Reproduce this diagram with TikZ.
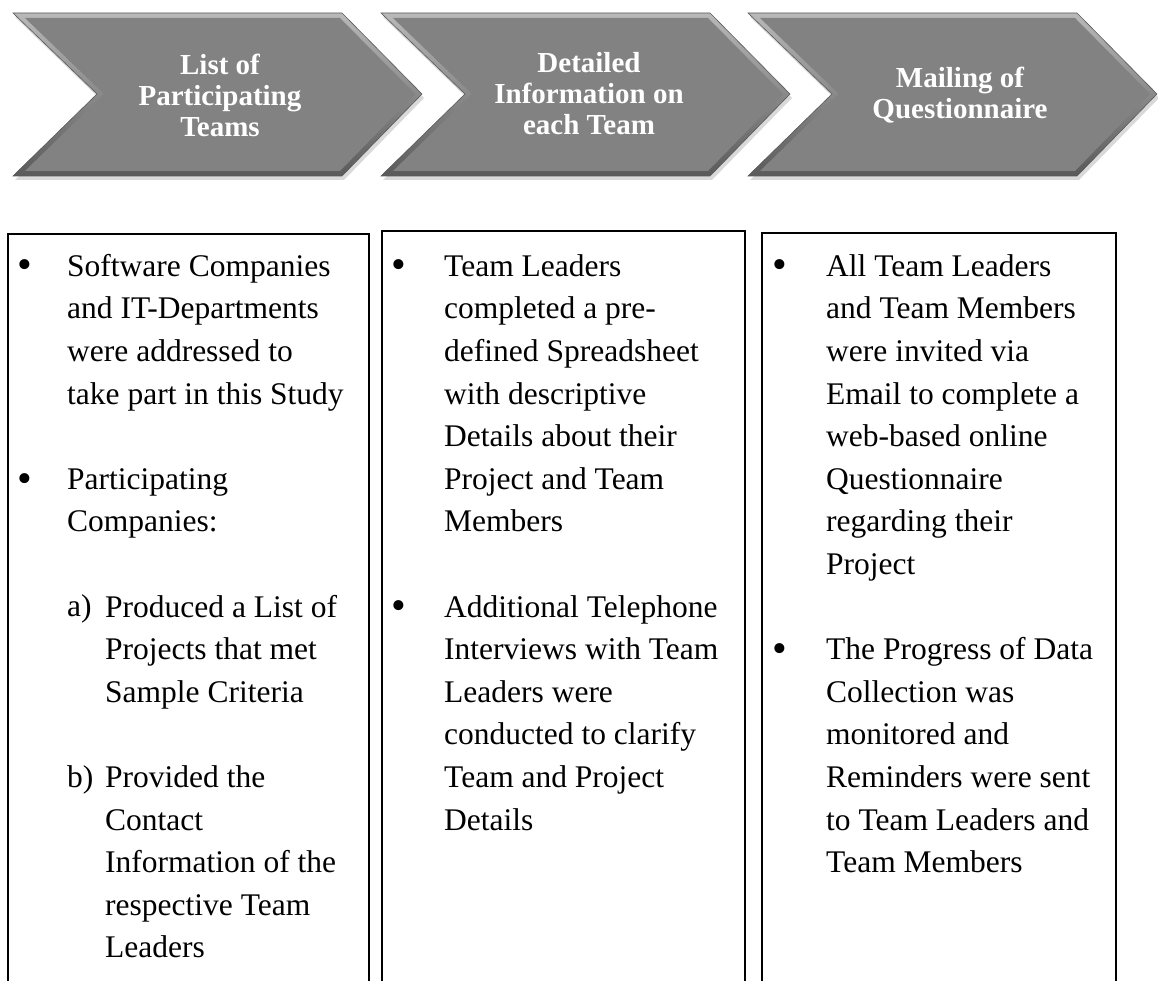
\documentclass[tikz,border=0pt]{standalone}
\usepackage{fontspec}
\setmainfont{Liberation Serif}
\definecolor{chevfill}{RGB}{130,130,130}
\definecolor{beveltop}{RGB}{185,185,185}
\definecolor{bevelbot}{RGB}{90,90,90}
\tikzset{
  chevtext/.style={text=white, font=\bfseries\fontsize{29}{31}\selectfont, align=center, inner sep=0pt},
  para/.style={anchor=north west, align=left, inner sep=0pt, font=\fontsize{31.5}{42.6}\selectfont},
  bul/.style={anchor=base, inner sep=0pt, font=\fontsize{42}{42.6}\selectfont},
  sublabel/.style={anchor=base west, inner sep=0pt, font=\fontsize{31.5}{42.6}\selectfont},
  boxline/.style={line width=1.6pt, draw=black},
  chevshadow/.style={fill=black, opacity=0.15},
  chevouter/.style={top color=beveltop, bottom color=bevelbot, draw=gray!70!black, line width=0.6pt},
  chevinner/.style={fill=chevfill},
}
\newcommand{\chevron}[1]{%
  \fill[chevshadow, shift={(#1+2,4)}] (0,13) -- (329,13) -- (409,94) -- (329,176) -- (0,176) -- (84,94) -- cycle;
  \path[chevouter, shift={(#1,0)}] (0,13) -- (329,13) -- (409,94) -- (329,176) -- (0,176) -- (84,94) -- cycle;
  \fill[chevinner, shift={(#1,0)}] (12,18) -- (327,18) -- (402,94) -- (327,171) -- (12,171) -- (91,94) -- cycle;
}
\begin{document}
\begin{tikzpicture}[x=1pt, y=-1pt]
\useasboundingbox (0,0) rectangle (1158,981);
% chevrons
\chevron{13}
\chevron{381}
\chevron{748}
\node[chevtext] (c1) at (220,95) {List of\\Participating\\Teams};
\node[chevtext] (c2) at (589,94) {Detailed\\Information on\\each Team};
\node[chevtext] (c3) at (960,95) {Mailing of\\Questionnaire};
% boxes (open at the bottom)
\draw[boxline] (8,981) -- (8,234) -- (369,234) -- (369,981);
\draw[boxline] (382,981) -- (382,231) -- (745,231) -- (745,981);
\draw[boxline] (762,981) -- (762,233) -- (1116,233) -- (1116,981);
% box 1
\node[bul] (b1a) at (25,279) {\textbullet};
\node[para] (t1a) at (67,246.2) {\strut Software Companies\\and IT-Departments\\were addressed to\\take part in this Study};
\node[bul] (b1b) at (25,492) {\textbullet};
\node[para] (t1b) at (67,459.2) {\strut Participating\\Companies:};
\node[sublabel] (l1a) at (67,616.8) {a)};
\node[para] (s1a) at (105,587.0) {\strut Produced a List of\\Projects that met\\Sample Criteria};
\node[sublabel] (l1b) at (67,787.2) {b)};
\node[para] (s1b) at (105,757.4) {\strut Provided the\\Contact\\Information of the\\respective Team\\Leaders};
% box 2
\node[bul] (b2a) at (399,279) {\textbullet};
\node[para] (t2a) at (444,246.2) {\strut Team Leaders\\completed a pre-\\defined Spreadsheet\\with descriptive\\Details about their\\Project and Team\\Members};
\node[bul] (b2b) at (399,619.8) {\textbullet};
\node[para] (t2b) at (444,587.0) {\strut Additional Telephone\\Interviews with Team\\Leaders were\\conducted to clarify\\Team and Project\\Details};
% box 3
\node[bul] (b3a) at (780,279) {\textbullet};
\node[para] (t3a) at (826,246.2) {\strut All Team Leaders\\and Team Members\\were invited via\\Email to complete a\\web-based online\\Questionnaire\\regarding their\\Project};
\node[bul] (b3b) at (780,662.4) {\textbullet};
\node[para] (t3b) at (826,629.6) {\strut The Progress of Data\\Collection was\\monitored and\\Reminders were sent\\to Team Leaders and\\Team Members};
\end{tikzpicture}
\end{document}
